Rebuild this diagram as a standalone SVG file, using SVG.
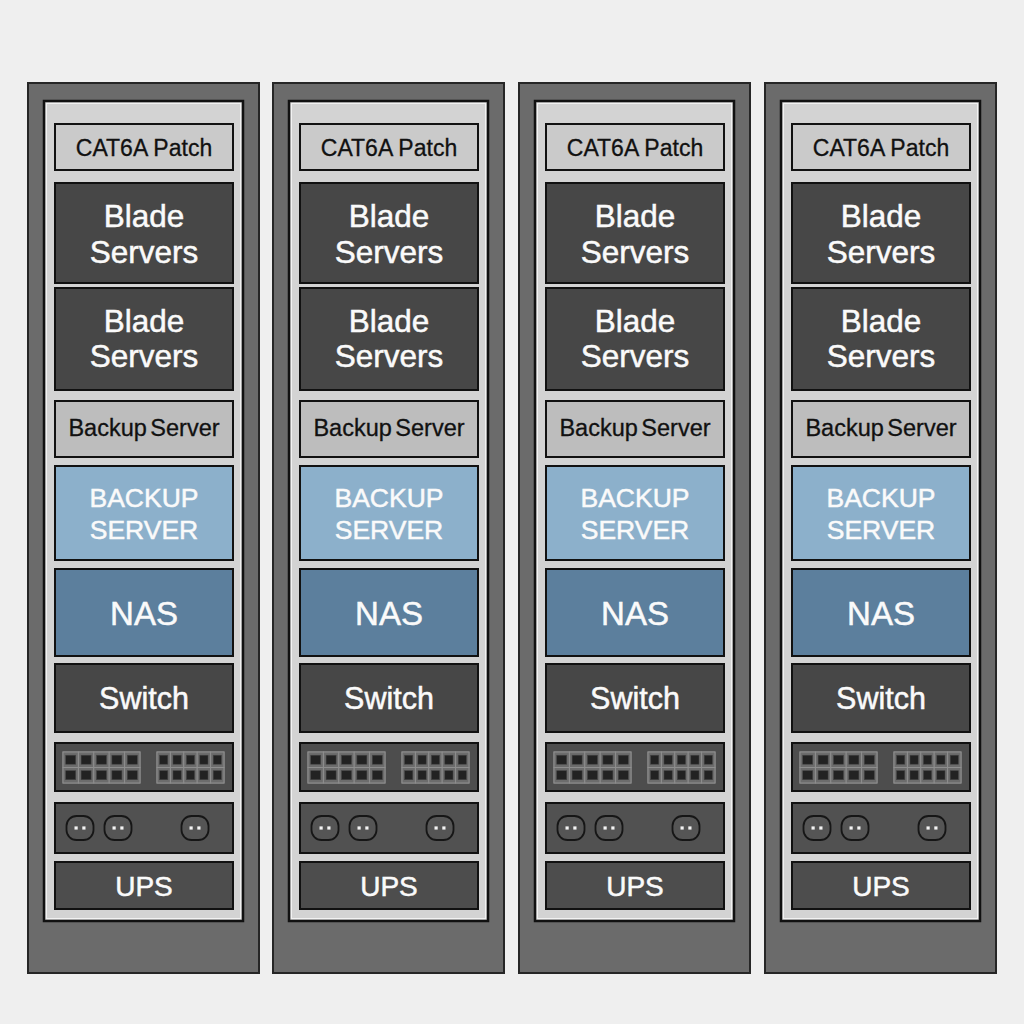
<svg xmlns="http://www.w3.org/2000/svg" xmlns:xlink="http://www.w3.org/1999/xlink" width="1024" height="1024" viewBox="0 0 1024 1024">
<style>
.outer{fill:#6b6b6b;stroke:#262626;stroke-width:2}
.inner{fill:#d3d3d3;stroke:#111;stroke-width:2.5}
.innerhl{fill:none;stroke:#f2f2f2;stroke-width:1}
.box{stroke:#111;stroke-width:2}
.patch{fill:#cacaca}
.dark{fill:#474747}
.gray{fill:#bdbdbd}
.lblue{fill:#8cb0cb}
.nas{fill:#5c7f9d}
.panel{fill:#4d4d4d}
.outl{fill:#515151}
.pg{fill:#777;stroke:#8c8c8c;stroke-width:1}
.pc{fill:#6c6c6c;stroke:#8e8e8e;stroke-width:1}
.pd{fill:#222;stroke:#444;stroke-width:0.6}
.ol{fill:#555;stroke:#161616;stroke-width:1.8}
.od{fill:#f4f4f4}
text{font-family:"Liberation Sans",Arial,Helvetica,sans-serif;text-anchor:middle}
.tb{fill:#111;stroke:#111;stroke-width:0.3}
.tw{fill:#fafafa;stroke:#fafafa;stroke-width:0.5}
</style>
<defs>
<g id="cellA"><rect class="pc" width="15.4" height="15.5"/><rect class="pd" x="2.7" y="3.2" width="10" height="9"/></g>
<g id="cellB"><rect class="pc" width="13.4" height="15.5"/><rect class="pd" x="2.6" y="3.2" width="8.2" height="9"/></g>
<g id="ports">
<rect class="pg" x="35" y="752" width="77" height="31"/>
<use xlink:href="#cellA" x="35" y="752"/><use xlink:href="#cellA" x="50.4" y="752"/><use xlink:href="#cellA" x="65.8" y="752"/><use xlink:href="#cellA" x="81.2" y="752"/><use xlink:href="#cellA" x="96.6" y="752"/>
<use xlink:href="#cellA" x="35" y="767.5"/><use xlink:href="#cellA" x="50.4" y="767.5"/><use xlink:href="#cellA" x="65.8" y="767.5"/><use xlink:href="#cellA" x="81.2" y="767.5"/><use xlink:href="#cellA" x="96.6" y="767.5"/>
<rect class="pg" x="129" y="752" width="67" height="31"/>
<use xlink:href="#cellB" x="129" y="752"/><use xlink:href="#cellB" x="142.4" y="752"/><use xlink:href="#cellB" x="155.8" y="752"/><use xlink:href="#cellB" x="169.2" y="752"/><use xlink:href="#cellB" x="182.6" y="752"/>
<use xlink:href="#cellB" x="129" y="767.5"/><use xlink:href="#cellB" x="142.4" y="767.5"/><use xlink:href="#cellB" x="155.8" y="767.5"/><use xlink:href="#cellB" x="169.2" y="767.5"/><use xlink:href="#cellB" x="182.6" y="767.5"/>
</g>
<g id="outlet"><rect class="ol" x="-13.5" y="-12" width="27" height="24" rx="10"/><rect class="od" x="-5.5" y="-1.6" width="3.2" height="3.2"/><rect class="od" x="2.3" y="-1.6" width="3.2" height="3.2"/></g>
<g id="outlets">
<use xlink:href="#outlet" x="52" y="828"/><use xlink:href="#outlet" x="90" y="828"/><use xlink:href="#outlet" x="167" y="828"/>
</g>
</defs>
<rect width="1024" height="1024" fill="#efefef"/>

<g id="rack1" transform="translate(28,0)">
<rect class="outer" x="0" y="83" width="231" height="890"/>
<rect class="inner" x="16" y="101" width="199" height="820"/>
<rect class="innerhl" x="18.5" y="103.5" width="194" height="815"/>
<g id="rack1-patch"><rect class="box patch" x="27" y="124" width="178" height="46"/><text class="tb" x="116" y="156" font-size="23">CAT6A Patch</text></g>
<g id="rack1-blade1"><rect class="box dark" x="27" y="183" width="178" height="100"/><text class="tw" x="116" y="227" font-size="31.5">Blade</text><text class="tw" x="116" y="263" font-size="31.5">Servers</text></g>
<g id="rack1-blade2"><rect class="box dark" x="27" y="288" width="178" height="102"/><text class="tw" x="116" y="332" font-size="31.5">Blade</text><text class="tw" x="116" y="367" font-size="31.5">Servers</text></g>
<g id="rack1-backup"><rect class="box gray" x="27" y="401" width="178" height="56"/><text class="tb" x="116" y="436" font-size="23.5" word-spacing="-3">Backup Server</text></g>
<g id="rack1-backup2"><rect class="box lblue" x="27" y="466" width="178" height="94"/><text class="tw" x="116" y="507" font-size="26.5">BACKUP</text><text class="tw" x="116" y="539" font-size="26.5">SERVER</text></g>
<g id="rack1-nas"><rect class="box nas" x="27" y="569" width="178" height="87"/><text class="tw" x="116" y="625" font-size="33">NAS</text></g>
<g id="rack1-switch"><rect class="box dark" x="27" y="664" width="178" height="68"/><text class="tw" x="116" y="709" font-size="30.5">Switch</text></g>
<g id="rack1-ports"><rect class="box panel" x="27" y="743" width="178" height="48"/><use xlink:href="#ports"/></g>
<g id="rack1-outlets"><rect class="box outl" x="27" y="803" width="178" height="50"/><use xlink:href="#outlets"/></g>
<g id="rack1-ups"><rect class="box panel" x="27" y="862" width="178" height="47"/><text class="tw" x="116" y="896" font-size="28">UPS</text></g>
</g>

<g id="rack2" transform="translate(273,0)">
<rect class="outer" x="0" y="83" width="231" height="890"/>
<rect class="inner" x="16" y="101" width="199" height="820"/>
<rect class="innerhl" x="18.5" y="103.5" width="194" height="815"/>
<g id="rack2-patch"><rect class="box patch" x="27" y="124" width="178" height="46"/><text class="tb" x="116" y="156" font-size="23">CAT6A Patch</text></g>
<g id="rack2-blade1"><rect class="box dark" x="27" y="183" width="178" height="100"/><text class="tw" x="116" y="227" font-size="31.5">Blade</text><text class="tw" x="116" y="263" font-size="31.5">Servers</text></g>
<g id="rack2-blade2"><rect class="box dark" x="27" y="288" width="178" height="102"/><text class="tw" x="116" y="332" font-size="31.5">Blade</text><text class="tw" x="116" y="367" font-size="31.5">Servers</text></g>
<g id="rack2-backup"><rect class="box gray" x="27" y="401" width="178" height="56"/><text class="tb" x="116" y="436" font-size="23.5" word-spacing="-3">Backup Server</text></g>
<g id="rack2-backup2"><rect class="box lblue" x="27" y="466" width="178" height="94"/><text class="tw" x="116" y="507" font-size="26.5">BACKUP</text><text class="tw" x="116" y="539" font-size="26.5">SERVER</text></g>
<g id="rack2-nas"><rect class="box nas" x="27" y="569" width="178" height="87"/><text class="tw" x="116" y="625" font-size="33">NAS</text></g>
<g id="rack2-switch"><rect class="box dark" x="27" y="664" width="178" height="68"/><text class="tw" x="116" y="709" font-size="30.5">Switch</text></g>
<g id="rack2-ports"><rect class="box panel" x="27" y="743" width="178" height="48"/><use xlink:href="#ports"/></g>
<g id="rack2-outlets"><rect class="box outl" x="27" y="803" width="178" height="50"/><use xlink:href="#outlets"/></g>
<g id="rack2-ups"><rect class="box panel" x="27" y="862" width="178" height="47"/><text class="tw" x="116" y="896" font-size="28">UPS</text></g>
</g>

<g id="rack3" transform="translate(519,0)">
<rect class="outer" x="0" y="83" width="231" height="890"/>
<rect class="inner" x="16" y="101" width="199" height="820"/>
<rect class="innerhl" x="18.5" y="103.5" width="194" height="815"/>
<g id="rack3-patch"><rect class="box patch" x="27" y="124" width="178" height="46"/><text class="tb" x="116" y="156" font-size="23">CAT6A Patch</text></g>
<g id="rack3-blade1"><rect class="box dark" x="27" y="183" width="178" height="100"/><text class="tw" x="116" y="227" font-size="31.5">Blade</text><text class="tw" x="116" y="263" font-size="31.5">Servers</text></g>
<g id="rack3-blade2"><rect class="box dark" x="27" y="288" width="178" height="102"/><text class="tw" x="116" y="332" font-size="31.5">Blade</text><text class="tw" x="116" y="367" font-size="31.5">Servers</text></g>
<g id="rack3-backup"><rect class="box gray" x="27" y="401" width="178" height="56"/><text class="tb" x="116" y="436" font-size="23.5" word-spacing="-3">Backup Server</text></g>
<g id="rack3-backup2"><rect class="box lblue" x="27" y="466" width="178" height="94"/><text class="tw" x="116" y="507" font-size="26.5">BACKUP</text><text class="tw" x="116" y="539" font-size="26.5">SERVER</text></g>
<g id="rack3-nas"><rect class="box nas" x="27" y="569" width="178" height="87"/><text class="tw" x="116" y="625" font-size="33">NAS</text></g>
<g id="rack3-switch"><rect class="box dark" x="27" y="664" width="178" height="68"/><text class="tw" x="116" y="709" font-size="30.5">Switch</text></g>
<g id="rack3-ports"><rect class="box panel" x="27" y="743" width="178" height="48"/><use xlink:href="#ports"/></g>
<g id="rack3-outlets"><rect class="box outl" x="27" y="803" width="178" height="50"/><use xlink:href="#outlets"/></g>
<g id="rack3-ups"><rect class="box panel" x="27" y="862" width="178" height="47"/><text class="tw" x="116" y="896" font-size="28">UPS</text></g>
</g>

<g id="rack4" transform="translate(765,0)">
<rect class="outer" x="0" y="83" width="231" height="890"/>
<rect class="inner" x="16" y="101" width="199" height="820"/>
<rect class="innerhl" x="18.5" y="103.5" width="194" height="815"/>
<g id="rack4-patch"><rect class="box patch" x="27" y="124" width="178" height="46"/><text class="tb" x="116" y="156" font-size="23">CAT6A Patch</text></g>
<g id="rack4-blade1"><rect class="box dark" x="27" y="183" width="178" height="100"/><text class="tw" x="116" y="227" font-size="31.5">Blade</text><text class="tw" x="116" y="263" font-size="31.5">Servers</text></g>
<g id="rack4-blade2"><rect class="box dark" x="27" y="288" width="178" height="102"/><text class="tw" x="116" y="332" font-size="31.5">Blade</text><text class="tw" x="116" y="367" font-size="31.5">Servers</text></g>
<g id="rack4-backup"><rect class="box gray" x="27" y="401" width="178" height="56"/><text class="tb" x="116" y="436" font-size="23.5" word-spacing="-3">Backup Server</text></g>
<g id="rack4-backup2"><rect class="box lblue" x="27" y="466" width="178" height="94"/><text class="tw" x="116" y="507" font-size="26.5">BACKUP</text><text class="tw" x="116" y="539" font-size="26.5">SERVER</text></g>
<g id="rack4-nas"><rect class="box nas" x="27" y="569" width="178" height="87"/><text class="tw" x="116" y="625" font-size="33">NAS</text></g>
<g id="rack4-switch"><rect class="box dark" x="27" y="664" width="178" height="68"/><text class="tw" x="116" y="709" font-size="30.5">Switch</text></g>
<g id="rack4-ports"><rect class="box panel" x="27" y="743" width="178" height="48"/><use xlink:href="#ports"/></g>
<g id="rack4-outlets"><rect class="box outl" x="27" y="803" width="178" height="50"/><use xlink:href="#outlets"/></g>
<g id="rack4-ups"><rect class="box panel" x="27" y="862" width="178" height="47"/><text class="tw" x="116" y="896" font-size="28">UPS</text></g>
</g>
</svg>
